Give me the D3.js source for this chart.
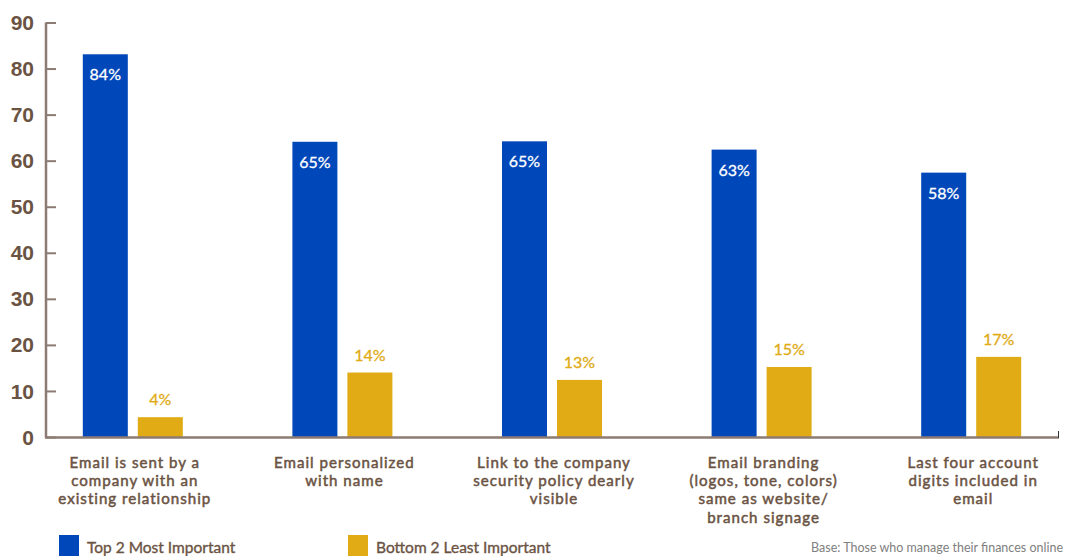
<!DOCTYPE html>
<html>
<head>
<meta charset="utf-8">
<script src="https://cdn.jsdelivr.net/npm/d3@7"></script>
<style>
  html, body { margin: 0; padding: 0; background: #fff; }
  svg { display: block; }
</style>
</head>
<body>
<svg id="chart" width="1065" height="556"></svg>
<script>
const categories = [
  ["Email is sent by a", "company with an", "existing relationship"],
  ["Email personalized", "with name"],
  ["Link to the company", "security policy dearly", "visible"],
  ["Email branding", "(logos, tone, colors)", "same as website/", "branch signage"],
  ["Last four account", "digits included in", "email"]
];
const seriesNames = ["Top 2 Most Important", "Bottom 2 Least Important"];
const top2Values = [83.1, 64.1, 64.2, 62.4, 57.4];
const top2Labels = ["84%", "65%", "65%", "63%", "58%"];
const bottom2Values = [4.3, 14.0, 12.4, 15.2, 17.4];
const bottom2Labels = ["4%", "14%", "13%", "15%", "17%"];
const yTicks = [0, 10, 20, 30, 40, 50, 60, 70, 80, 90];
const baseNote = "Base: Those who manage their finances online";

const colors = { top: "#0047b9", bottom: "#e0ab14", text: "#6b5343", axis: "#8c7b72" };

const svg = d3.select("#chart");
const idx = d3.range(categories.length);

const x = d3.scaleBand().domain(idx).range([28, 1076]);
const y = d3.scaleLinear().domain([0, 90]).range([437, 22.5]);

const barW = 45, gap = 10;

// Y axis
const yAxis = svg.append("g").attr("transform", "translate(46,0)")
  .call(d3.axisRight(y).tickValues(yTicks).tickSize(10).tickFormat(""));
yAxis.select(".domain").remove();
yAxis.selectAll(".tick line").attr("stroke", colors.axis).attr("stroke-width", 2);
svg.append("line").attr("x1", 46).attr("x2", 46).attr("y1", y(90)).attr("y2", y(0) + 1)
  .attr("stroke", colors.axis).attr("stroke-width", 2.5);

svg.append("g").selectAll("text").data(yTicks).join("text")
  .attr("x", 34).attr("y", d => y(d))
  .attr("dy", "0.36em")
  .attr("text-anchor", "end")
  .attr("font-family", "'Liberation Sans Narrow', 'Liberation Sans', sans-serif")
  .attr("font-weight", "bold")
  .attr("font-size", 21)
  .attr("fill", colors.text)
  .text(d => d);

// Bars
const g = svg.append("g");
g.selectAll("rect.top").data(idx).join("rect")
  .attr("class", "top")
  .attr("x", i => x(i) + x.bandwidth() / 2 - gap / 2 - barW)
  .attr("y", i => y(top2Values[i]))
  .attr("width", barW)
  .attr("height", i => y(0) - y(top2Values[i]))
  .attr("fill", colors.top);
g.selectAll("rect.bottom").data(idx).join("rect")
  .attr("class", "bottom")
  .attr("x", i => x(i) + x.bandwidth() / 2 + gap / 2)
  .attr("y", i => y(bottom2Values[i]))
  .attr("width", barW)
  .attr("height", i => y(0) - y(bottom2Values[i]))
  .attr("fill", colors.bottom);

// Value labels
g.selectAll("text.tl").data(idx).join("text")
  .attr("class", "tl")
  .attr("x", i => x(i) + x.bandwidth() / 2 - gap / 2 - barW / 2)
  .attr("y", i => y(top2Values[i]) + 26)
  .attr("text-anchor", "middle")
  .attr("font-family", "Lato, sans-serif")
  .attr("font-size", 16)
  .attr("fill", "#fff")
  .attr("stroke", "#fff").attr("stroke-width", 0.3)
  .text(i => top2Labels[i]);
g.selectAll("text.bl").data(idx).join("text")
  .attr("class", "bl")
  .attr("x", i => x(i) + x.bandwidth() / 2 + gap / 2 + barW / 2)
  .attr("y", i => y(bottom2Values[i]) - 12)
  .attr("text-anchor", "middle")
  .attr("font-family", "Lato, sans-serif")
  .attr("font-size", 16)
  .attr("fill", colors.bottom)
  .attr("stroke", colors.bottom).attr("stroke-width", 0.3)
  .text(i => bottom2Labels[i]);

// X axis
svg.append("line").attr("x1", 45).attr("x2", 1059).attr("y1", y(0) + 0.5).attr("y2", y(0) + 0.5)
  .attr("stroke", colors.axis).attr("stroke-width", 2.5);
svg.append("line").attr("x1", 1058.5).attr("x2", 1058.5).attr("y1", y(0) - 6).attr("y2", y(0) + 1)
  .attr("stroke", "#333").attr("stroke-width", 1);

// Category labels (one text per line)
const catLines = [];
idx.forEach(i => categories[i].forEach((t, j) => catLines.push({ i, j, t })));
svg.append("g").selectAll("text").data(catLines).join("text")
  .attr("x", d => x(d.i) + x.bandwidth() / 2 + 2)
  .attr("y", d => 468 + d.j * 18.2)
  .attr("text-anchor", "middle")
  .attr("font-family", "Lato, sans-serif")
  .attr("font-size", 15.1)
  .attr("letter-spacing", 1.0)
  .attr("fill", colors.text)
  .attr("stroke", colors.text).attr("stroke-width", 0.5)
  .text(d => d.t);

// Legend
const legendX = [59, 348];
const leg = svg.append("g").selectAll("g").data(seriesNames).join("g")
  .attr("transform", (d, i) => `translate(${legendX[i]},535)`);
leg.append("rect").attr("width", 20).attr("height", 21)
  .attr("fill", (d, i) => i === 0 ? colors.top : colors.bottom);
leg.append("text").attr("x", 28).attr("y", 18)
  .attr("font-family", "Lato, sans-serif")
  .attr("font-size", 15.5)
  .attr("fill", colors.text)
  .attr("stroke", colors.text).attr("stroke-width", 0.35)
  .text(d => d);

// Base note
svg.append("text").attr("x", 1063).attr("y", 552)
  .attr("text-anchor", "end")
  .attr("font-family", "Lato, sans-serif")
  .attr("font-size", 12.5)
  .attr("fill", "#808080")
  .text(baseNote);
</script>
</body>
</html>
